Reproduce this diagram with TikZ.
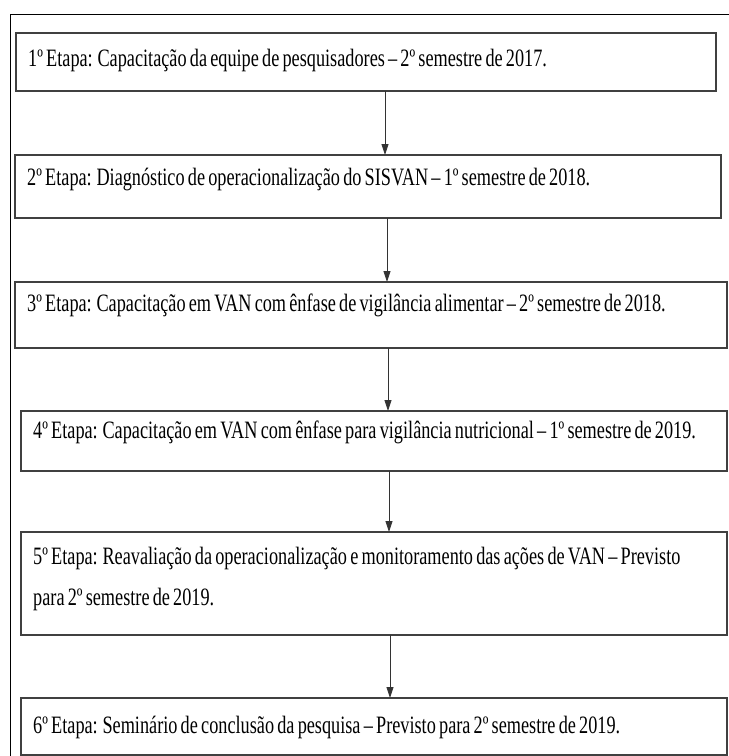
\documentclass[tikz,border=0pt]{standalone}
\usepackage{fontspec}
\setmainfont{Liberation Serif}[FakeStretch=0.73, WordSpace=0.7]
\usetikzlibrary{arrows.meta}

\begin{document}
\begin{tikzpicture}[x=1pt,y=-1pt]
\pgfmathsetmacro{\LW}{700}
\pgfmathsetmacro{\LWL}{706}

\tikzset{
  etapa/.style={draw=black!75, line width=1.3pt, rectangle, anchor=north west,
  inner sep=0pt, outer sep=0pt},
  texto/.style={anchor=base west, inner sep=0pt, align=left,
  font=\fontsize{25}{41}\selectfont},
  seta/.style={draw=black!80, line width=0.9pt},
}

\useasboundingbox (0,0) rectangle (729,756);
\draw[line width=1pt] (10,756) -- (10,14) -- (729,14);

\node[etapa, minimum width=\LW pt, minimum height=58pt] (e1) at (16,33) {};
\node[etapa, minimum width=706pt, minimum height=63pt] (e2) at (15,155) {};
\node[etapa, minimum width=712pt, minimum height=66pt] (e3) at (15,282) {};
\node[etapa, minimum width=\LWL pt, minimum height=60pt] (e4) at (21,411) {};
\node[etapa, minimum width=\LWL pt, minimum height=103pt] (e5) at (21,532) {};
\node[etapa, minimum width=\LWL pt, minimum height=57pt] (e6) at (21,698) {};

\node[texto] (t1) at (28,66) {1º Etapa: Capacitação da equipe de pesquisadores – 2º semestre de 2017.};
\node[texto] (t2) at (27,185) {2º Etapa: Diagnóstico de operacionalização do SISVAN – 1º semestre de 2018.};
\node[texto] (t3) at (27,311) {3º Etapa: Capacitação em VAN com ênfase de vigilância alimentar – 2º semestre de 2018.};
\node[texto] (t4) at (33,438) {4º Etapa: Capacitação em VAN com ênfase para vigilância nutricional – 1º semestre de 2019.};
% a base do nó de duas linhas fica na última linha
\node[texto] (t5) at (33,605) {5º Etapa: Reavaliação da operacionalização e monitoramento das ações de VAN – Previsto\\
para 2º semestre de 2019.};
\node[texto] (t6) at (33,733) {6º Etapa: Seminário de conclusão da pesquisa – Previsto para 2º semestre de 2019.};

\draw[seta,-{Triangle[length=11pt,width=7pt]}] ([xshift=19pt]e1.south) -- ([xshift=17pt]e2.north);
\draw[seta,-{Triangle[length=11pt,width=7pt]}] ([xshift=19pt]e2.south) -- ([xshift=16pt]e3.north);
\draw[seta,-{Triangle[length=11pt,width=7pt]}] ([xshift=17pt]e3.south) -- ([xshift=14pt]e4.north);
\draw[seta,-{Triangle[length=11pt,width=7pt]}] ([xshift=15pt]e4.south) -- ([xshift=15pt]e5.north);
\draw[seta,-{Triangle[length=11pt,width=7pt]}] ([xshift=16pt]e5.south) -- ([xshift=16pt]e6.north);
\end{tikzpicture}
\end{document}
